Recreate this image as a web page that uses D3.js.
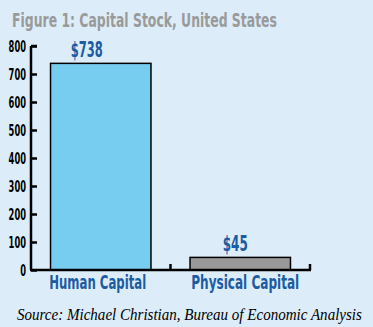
<!DOCTYPE html>
<html><head><meta charset="utf-8">
<script src="https://cdn.jsdelivr.net/npm/d3@7"></script>
<style>
html,body{margin:0;padding:0;background:#dcedf9;}
svg{display:block;}
.cond{font-family:"Liberation Sans Narrow","DejaVu Sans Condensed","Roboto Condensed",sans-serif;font-weight:bold;}
</style></head><body>
<svg id="c" width="373" height="327"></svg>
<script>
const categories = ["Human Capital", "Physical Capital"];
const values = [738, 45];
const valueLabels = ["$738", "$45"];
const yTicks = [0, 100, 200, 300, 400, 500, 600, 700, 800];
const title = "Figure 1: Capital Stock, United States";
const source = "Source: Michael Christian, Bureau of Economic Analysis";
const barColors = ["#77cdf0", "#999999"];

const svg = d3.select("#c");
svg.append("rect").attr("width",373).attr("height",327).attr("fill","#dcedf9");

const x = d3.scaleBand().domain(categories).range([31, 310]).paddingInner(0.28).paddingOuter(0.14);
const y = d3.scaleLinear().domain([0, 800]).range([270, 46]);

// place a text so its width is w, anchored at (ax, ay) with anchor 'start'|'middle'|'end'
function fit(sel, ax, ay, w, anchor) {
  sel.attr("text-anchor","start").attr("x",0).attr("y",0);
  const nat = sel.node().getComputedTextLength();
  const s = w / nat;
  const x0 = anchor==="middle" ? ax - w/2 : anchor==="end" ? ax - w : ax;
  sel.attr("transform",`translate(${x0},${ay}) scale(${s},1)`);
}

// title
fit(svg.append("text").attr("class","cond").attr("font-size",20).attr("fill","#9a9a9a").text(title), 12, 26.5, 265, "start");

// bars
svg.selectAll("rect.bar").data(values).join("rect").attr("class","bar")
  .attr("x",(d,i)=>x(categories[i])).attr("width",x.bandwidth())
  .attr("y",d=>y(d)).attr("height",d=>y(0)-y(d))
  .attr("fill",(d,i)=>barColors[i]).attr("stroke","#000").attr("stroke-width",1.5);

// value labels
const vlW=[32,25], vlOff=[-14,-5];
values.forEach((v,i)=>{
  fit(svg.append("text").attr("class","vl cond").attr("font-size",21).attr("fill","#1d5ba3").text(valueLabels[i]),
      x(categories[i])+x.bandwidth()/2+vlOff[i], y(v)-6, vlW[i], "middle");
});

// y axis
const yAxis = d3.axisRight(y).tickValues(yTicks).tickSize(6).tickFormat(d3.format("d"));
const gy = svg.append("g").attr("transform","translate(31,0)").call(yAxis);
gy.select(".domain").attr("d","M0,"+y(800)+"H6M0,"+y(800)+"V"+y(0)).attr("stroke","#000").attr("stroke-width",2.5).attr("fill","none");
gy.selectAll(".tick line").attr("stroke","#000").attr("stroke-width",2.5);
gy.selectAll(".tick text").attr("class","cond").attr("font-size",15).attr("fill","#000").attr("dy",null)
  .each(function(d){ fit(d3.select(this), -5, 5.2, String(d).length*5.8, "end"); });

// x axis baseline with boundary ticks
const bounds = [31, x(categories[1]) - x.step()*x.paddingInner()/2, 310];
svg.append("line").attr("x1",30).attr("x2",311).attr("y1",y(0)).attr("y2",y(0)).attr("stroke","#000").attr("stroke-width",2.5);
svg.selectAll("line.xt").data(bounds.slice(1)).join("line").attr("class","xt")
  .attr("x1",d=>d).attr("x2",d=>d).attr("y1",y(0)).attr("y2",y(0)-6).attr("stroke","#000").attr("stroke-width",2.5);

// category labels
const clW=[97,108], clOff=[-3,5];
categories.forEach((c,i)=>{
  fit(svg.append("text").attr("class","cl cond").attr("font-size",19).attr("fill","#1d5ba3").text(c),
      x(c)+x.bandwidth()/2+clOff[i], 289, clW[i], "middle");
});

// source
fit(svg.append("text").attr("font-family","'Liberation Serif','DejaVu Serif',serif").attr("font-style","italic")
  .attr("font-size",17).attr("fill","#000").text(source), 17, 320, 345, "start");
</script></body></html>
